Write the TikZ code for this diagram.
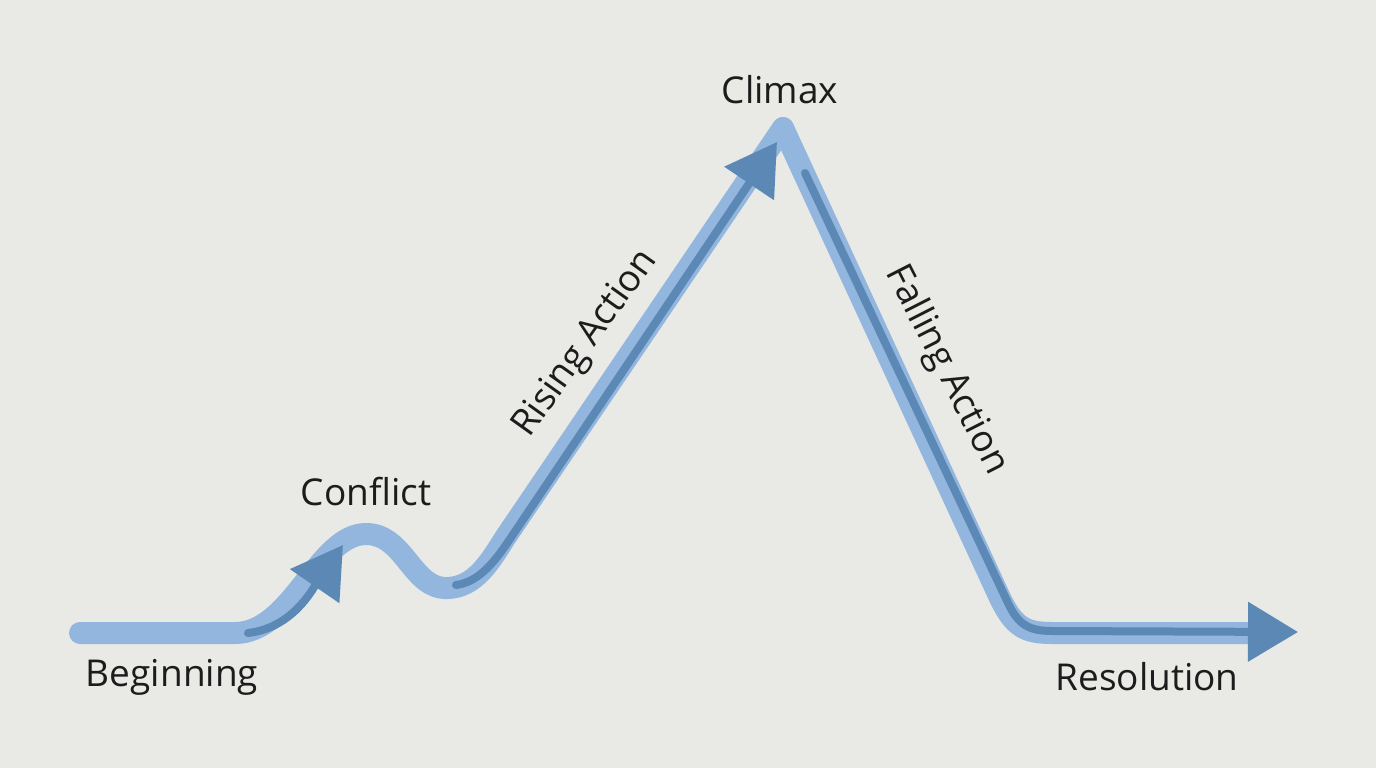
\documentclass[tikz,border=0pt]{standalone}
\usepackage{fontspec}
\setmainfont{Open Sans}
\usepackage{xcolor}
\usetikzlibrary{arrows.meta}
\usetikzlibrary{positioning}
\definecolor{bgcol}{HTML}{E9E9E6}
\definecolor{arclight}{HTML}{93B6DE}
\definecolor{arcdark}{HTML}{5C88B6}
\definecolor{inkcol}{HTML}{1C1C1C}
\begin{document}
\begin{tikzpicture}[
  x=1pt, y=-1pt,
  lbl/.style={text=inkcol, font=\fontsize{37}{42}\selectfont, inner sep=0pt},
  arc/.style={draw=arclight, line width=22pt, line cap=round, line join=round},
  flow/.style={draw=arcdark, line width=8pt, line cap=round,
    -{Triangle[length=50pt,width=58pt]}}]
  \fill [bgcol] (0,0) rectangle (1376,768);
  \useasboundingbox (0,0) rectangle (1376,768);
  %% Points
  \coordinate (start) at (80,633);
  \coordinate (peak) at (366,534);
  \coordinate (trough) at (448,588);
  \coordinate (top) at (783,128);
  \coordinate (foot) at (1000,598);
  \coordinate (finish) at (1250,633);
  %% Labels
  \node [lbl] at (172,677) (Begin) {Beginning};
  \node [lbl] at (366,492) (Conf) {Conflict};
  \node [lbl] at (780,90) (Clim) {Climax};
  \node [lbl] at (1147,677) (Reso) {Resolution};
  \node [lbl, rotate=54.5] at (586,344) (Rise) {Rising Action};
  \node [lbl, rotate=-63] at (946,370) (Fall) {Falling Action};
  %% Arc
  \path [arc] (start) -- (235,633) .. controls (292,633) and (318,534) .. (peak)
    .. controls (405,534) and (412,590) .. (trough)
    .. controls (475,587) and (490,562) .. (505,538) -- (top) -- (foot)
    .. controls (1014,627) and (1025,633) .. (1052,633) -- (finish);
  %% Flows
  \path [flow] (248,633) .. controls (292,628) and (312,590) .. (343,545);
  \path [flow] (456,585) .. controls (480,582) and (496,560) .. (512,536) -- (777,142);
  \path [flow] (805,173) -- (1008,603) .. controls (1018,624) and (1028,631) .. (1052,631) -- (1298,632);
\end{tikzpicture}
\end{document}
